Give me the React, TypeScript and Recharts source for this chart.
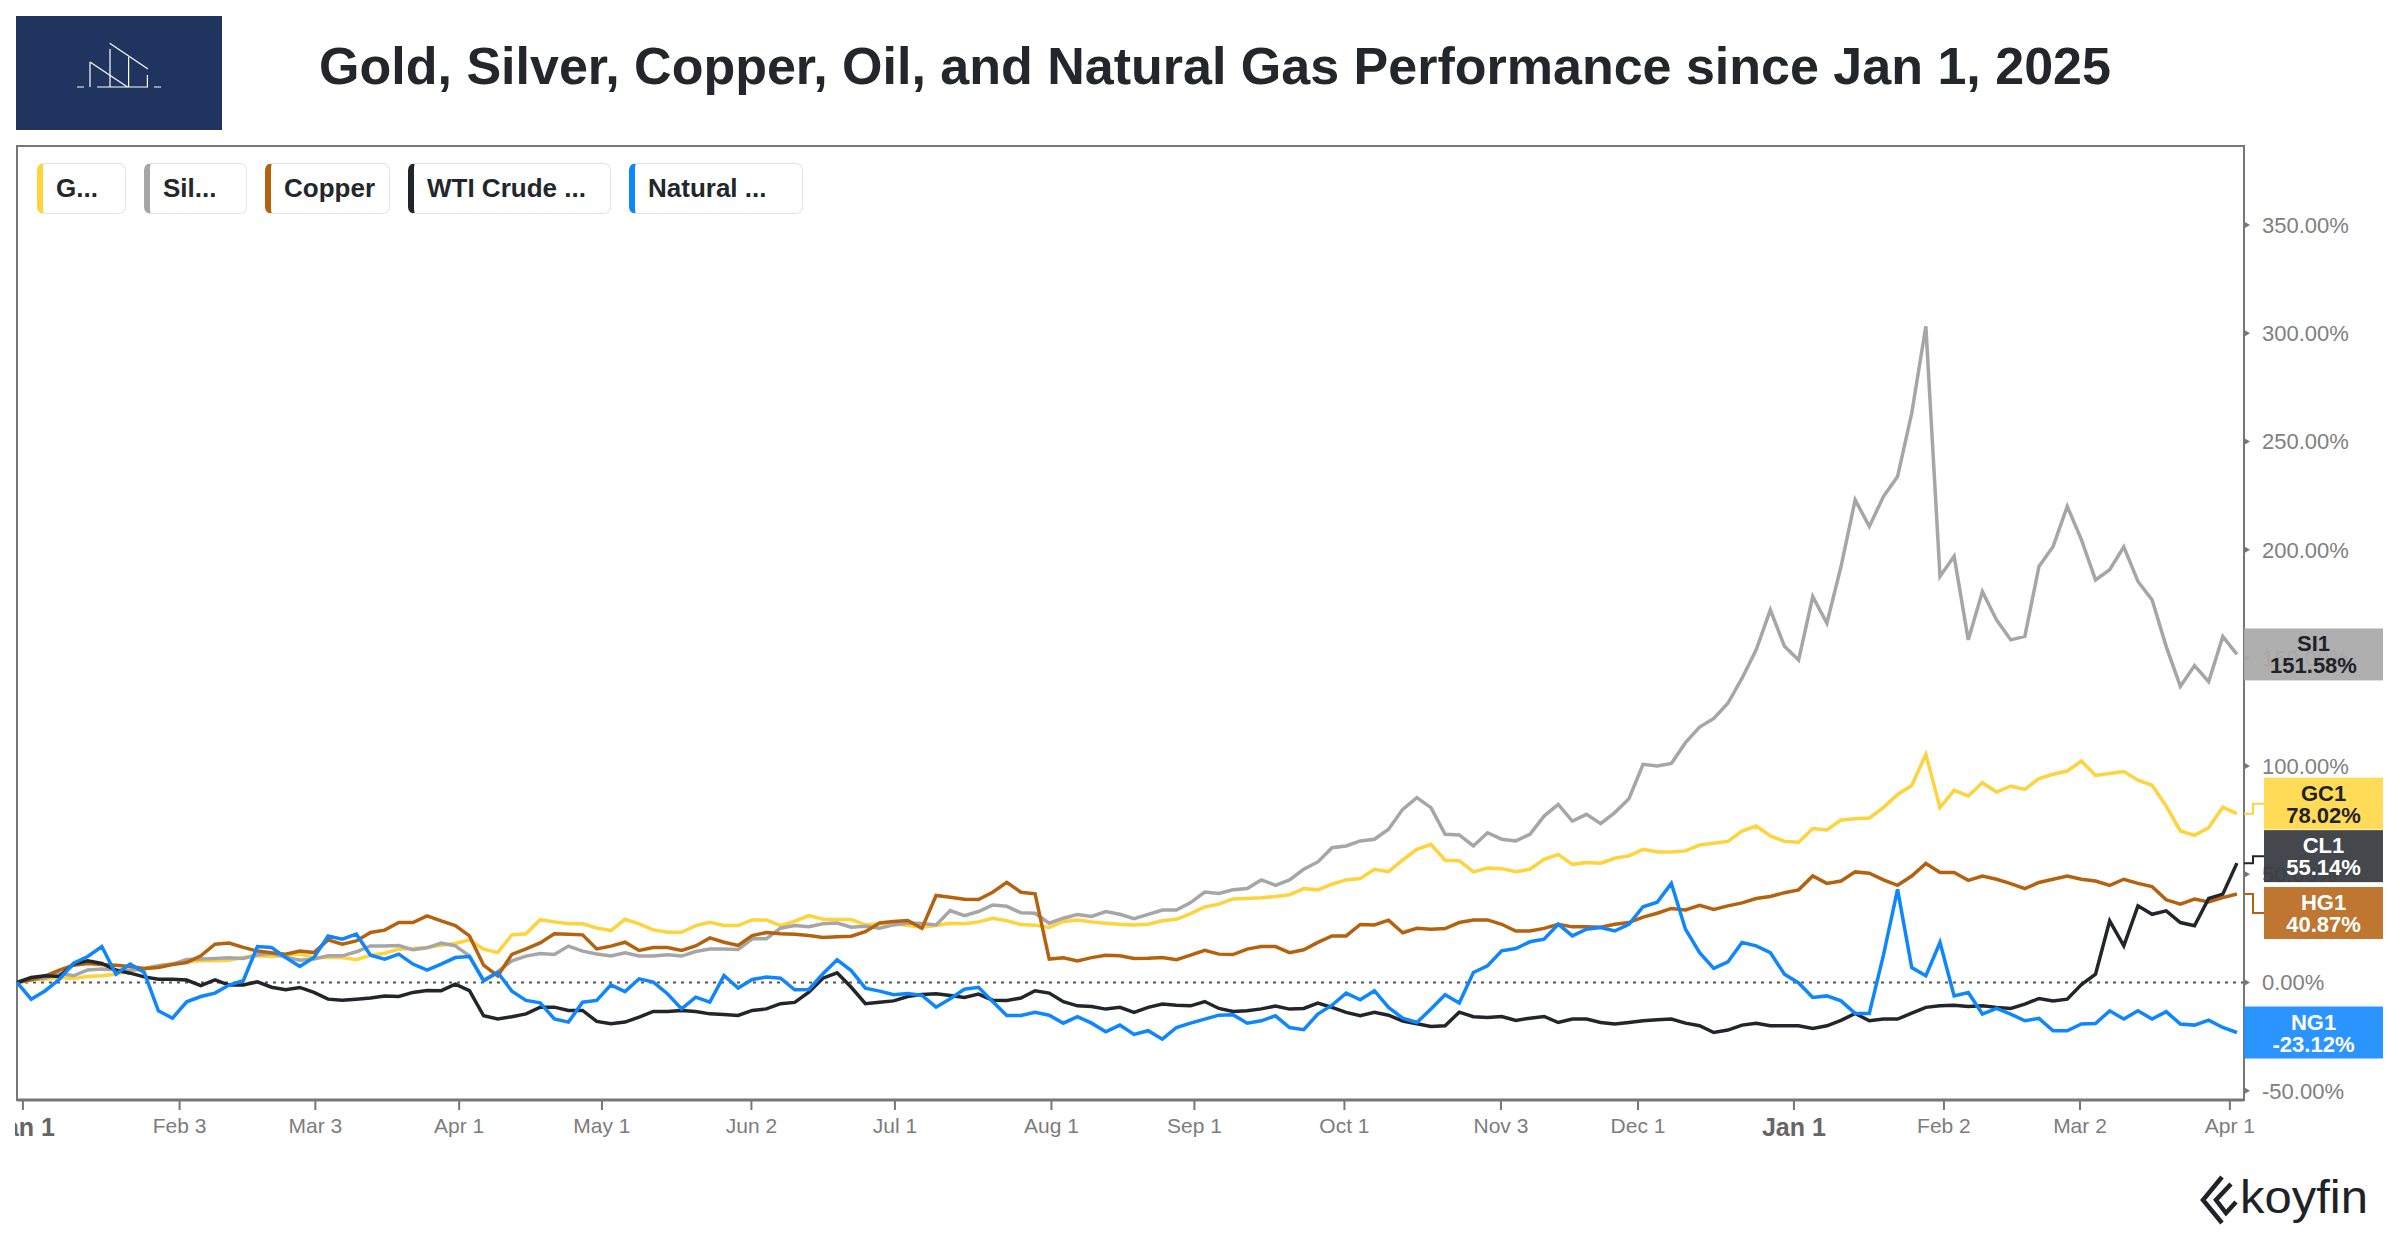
import React from 'react';
import { LineChart, Line, XAxis, YAxis, ReferenceLine, ReferenceArea, Legend } from 'recharts';

// % change since Jan 1 2025, one point every ~2 sessions (last point = latest close)
const GOLD = [
  0, 1, 1.5, 2.3, 1.8, 2.8, 3.1, 3.8, 5.4, 6.5,
  7.7, 8.5, 9.5, 10, 10, 10.3, 11.5, 12.3, 12, 12.6,
  13.1, 11.5, 11.5, 11.5, 10.5, 12.6, 13.5, 15.4, 15.7, 16.2,
  17.2, 18, 19.7, 15.4, 13.8, 22, 22.5, 29, 28, 27.1,
  27.1, 25.2, 24, 29.2, 27.1, 24.3, 23.2, 23.2, 26.3, 27.8,
  26.3, 26.3, 28.9, 28.9, 26.3, 28.3, 30.9, 29.2, 29.1, 29.1,
  26.6, 27.1, 27.1, 26.3, 25.5, 26.3, 27.4, 27.1, 28, 29.7,
  28.5, 26.8, 26.5, 25.4, 28.2, 28.9, 28, 27.4, 26.9, 26.6,
  26.9, 28.5, 29.2, 31.8, 34.9, 36.2, 38.6, 38.8, 39.1, 39.7,
  40.5, 43.4, 42.8, 45.4, 47.4, 48, 52.3, 51.2, 56.6, 61.5,
  63.8, 56.5, 56.3, 51.1, 52.9, 52.6, 51.2, 52.3, 56.9, 59.2,
  54.6, 55.4, 55.1, 57.4, 58.5, 61.5, 60.3, 60.3, 60.8, 63.5,
  64.3, 65.2, 70, 72.3, 67.7, 65.2, 64.8, 71.1, 70.5, 75.1,
  75.7, 76, 80.8, 86.9, 91, 105.4, 80.8, 88.8, 86.2, 92.3,
  88, 90.8, 89.2, 94.2, 96.2, 97.7, 102.3, 95.7, 96.6, 97.5,
  93.5, 91.1, 81.5, 70, 68, 71.5, 81, 78.02,
];

const SILVER = [
  0, 1.2, 2, 4.3, 3.1, 5.8, 6.2, 5.8, 5.7, 6.2,
  7.7, 8.5, 10.6, 10.8, 11.1, 11.4, 11.1, 12.8, 13.4, 11.7,
  10.3, 10.8, 12.3, 12.3, 14.2, 16.9, 16.9, 17.1, 15.1, 16,
  18.2, 16.9, 12.3, 1, 5, 10, 12.2, 13.4, 12.9, 16.8,
  14.5, 13.2, 12.2, 13.7, 12.2, 12.2, 12.8, 12.2, 14.3, 15.5,
  15.5, 15.2, 20.2, 20.2, 25.1, 26.3, 25.8, 27.1, 27.5, 25.5,
  26, 25.1, 26.6, 27.5, 27.2, 26.6, 33.2, 30.9, 32.8, 35.8,
  35.2, 32.2, 32, 27.4, 29.7, 31.4, 30.5, 32.8, 31.5, 29.5,
  31.5, 33.5, 33.5, 36.9, 41.8, 41.1, 42.8, 43.4, 47.4, 44.9,
  47.4, 52.3, 55.7, 62.3, 63.1, 65.4, 66.2, 70.8, 80, 85.4,
  80.8, 68.5, 68.2, 63.1, 69.2, 66.2, 65.4, 68.5, 76.9, 82.3,
  74.6, 77.7, 73.4, 78.5, 84.9, 100.8, 100, 101.2, 110.8, 118,
  122, 129, 140.6, 153.7, 172.2, 155.3, 149, 178.3, 166, 192.2,
  223, 210.7, 224.5, 233.8, 263, 303.2, 187.6, 196.9, 158.3, 180.6,
  167.5, 158.3, 159.9, 192.2, 201.5, 220, 204.6, 186, 190.7, 201.3,
  185.3, 176.8, 155.2, 136.8, 146.4, 139, 159.9, 151.58,
];

const COPPER = [
  0, 1.2, 3.1, 5.7, 8, 8.8, 8.3, 8, 7.4, 6.5,
  6.9, 8.3, 9.2, 12.3, 17.7, 18.2, 16.2, 14.5, 13.7, 13.1,
  14.5, 13.8, 19.7, 17.7, 19.2, 23.1, 24.2, 27.7, 27.7, 30.8,
  28.5, 26.3, 21.5, 8, 3, 13, 15.5, 18.3, 22.5, 22.3,
  22, 15.5, 16.8, 18.6, 14.8, 16.2, 16.2, 14.8, 16.9, 20.6,
  18.6, 17.1, 21.7, 23.1, 22.5, 22.3, 21.7, 20.8, 21.1, 21.4,
  23.5, 27.5, 28.2, 28.6, 25, 40.2, 39.4, 38.5, 38.3, 41.7,
  46.3, 41.7, 41, 10.8, 11.4, 10, 11.5, 12.6, 12.3, 11.1,
  11.2, 11.5, 10.5, 12.6, 14.9, 13.1, 12.9, 15.4, 16.6, 16.6,
  13.8, 15.1, 18.5, 21.5, 21.5, 26.8, 26.6, 28.8, 23, 25,
  24.6, 24.9, 27.7, 28.9, 28.9, 26.9, 23.8, 23.8, 25, 26.9,
  25.7, 25.8, 25.5, 26.9, 27.7, 30.2, 32, 34.2, 33.5, 35.7,
  33.8, 35.4, 36.8, 38.8, 39.7, 41.5, 42.8, 49.2, 45.8, 46.9,
  51.1, 50.5, 47.4, 44.9, 49.2, 55, 50.8, 50.8, 47.2, 49.2,
  47.7, 45.7, 43.4, 46.2, 47.7, 49.2, 47.7, 46.9, 44.9, 47.7,
  45.8, 44.3, 38.2, 36.2, 38.5, 37.2, 39.2, 40.87,
];

const WTI = [
  0, 2.3, 3.1, 2.8, 8.5, 10, 8.8, 5.7, 4.3, 2.6,
  1.5, 1.5, 1.1, -1.5, 1.2, -1.2, -1.2, 0.3, -2.2, -3.4,
  -2.3, -4.6, -7.7, -8.2, -7.7, -7.2, -6.3, -6.5, -4.6, -3.7,
  -3.8, -0.8, -3.8, -15.4, -16.9, -15.8, -14.5, -11.4, -11.4, -12.9,
  -12.9, -18, -19.1, -18.3, -16, -13.4, -13.4, -12.9, -13.4, -14.5,
  -14.8, -15.2, -12.9, -12.2, -9.8, -9.2, -4.5, 2, 4.5, -2.2,
  -9.8, -9.1, -8.5, -6.5, -5.5, -5.2, -6, -6.9, -5.4, -8.2,
  -8.3, -7.2, -3.8, -4.9, -8.9, -10.8, -11.1, -12.3, -11.5, -13.8,
  -11.5, -10, -10.5, -10.8, -8.8, -12, -13.4, -13.1, -12.2, -10.9,
  -12.3, -12, -9.5, -11.5, -13.8, -15.4, -13.8, -15.1, -17.8, -19.1,
  -20.3, -20, -13.7, -15.8, -16.2, -15.7, -17.5, -16.5, -15.7, -18.5,
  -16.9, -16.9, -18.5, -19.2, -18.5, -17.7, -17.2, -16.9, -18.8, -20,
  -23.1, -22, -19.7, -18.8, -20, -20, -20, -21.2, -20, -17.5,
  -14.3, -17.7, -16.9, -16.9, -14.2, -11.5, -10.8, -10.5, -11.1, -10.8,
  -11.5, -12, -10, -7.4, -8.5, -7.7, -1, 3.8, 28.5, 16.9,
  35.4, 31.5, 33.1, 27.7, 26.2, 38.8, 40.8, 55.14,
];

const NATGAS = [
  0, -7.7, -3.8, 1.5, 8.9, 12, 16.6, 3.8, 8.5, 4.6,
  -13.1, -16.5, -8.9, -6.5, -4.9, -1.2, 0.8, 16.6, 16.2, 11.5,
  7.4, 11.5, 21.5, 20, 22.3, 12.6, 10.8, 13.1, 8.5, 5.7,
  8.5, 11.5, 12, 0.8, 4.6, -4, -8.3, -9.4, -16.8, -18.3,
  -9.1, -8.3, -1.1, -4.2, 1.7, 0.2, -5.2, -12.2, -6.8, -9.1,
  3.2, -2.6, 1.4, 2.5, 2, -3.4, -3.2, 4, 10.5, 5.5,
  -2.6, -4, -5.7, -5.1, -6, -11.4, -7.5, -3.1, -2.2, -8.8,
  -15.2, -15.2, -13.8, -15.1, -18.8, -15.8, -18.8, -22.8, -19.7, -24,
  -22.3, -26.2, -20.8, -18.8, -16.9, -15.1, -14.9, -18.8, -17.7, -15.4,
  -20.8, -21.8, -14.6, -10.5, -4.9, -8, -3.8, -11.5, -16.5, -18.5,
  -12.3, -5.7, -9.5, 4.6, 7.7, 14.6, 15.7, 18.8, 20, 26.9,
  21.5, 24.6, 25.4, 23.8, 26.9, 35, 37.1, 45.8, 24.6, 13.8,
  6.5, 9.5, 18.5, 16.9, 13.8, 3.8, -0.2, -6.9, -6.2, -8.5,
  -14.3, -14.3, 12.6, 43, 6.9, 3.1, 18.5, -6.2, -4.6, -14.6,
  -12, -14.6, -17.7, -16.6, -22.3, -22.3, -19.2, -19, -13.1, -16.9,
  -13.1, -16.9, -13.5, -19.2, -19.7, -17.4, -20.8, -23.12,
];

// month ticks, in sample units
const TICK_POS = [0.42, 11.5, 21.1, 31.27, 41.37, 51.94, 62.09, 73.16, 83.27, 93.88, 104.95, 114.64, 125.67, 136.28, 145.9, 156.5];
const TICK_LABELS = ['Jan 1', 'Feb 3', 'Mar 3', 'Apr 1', 'May 1', 'Jun 2', 'Jul 1', 'Aug 1', 'Sep 1', 'Oct 1', 'Nov 3', 'Dec 1', 'Jan 1', 'Feb 2', 'Mar 2', 'Apr 1'];
const Y_TICKS = [-50, 0, 50, 100, 150, 200, 250, 300, 350];

const FONT = "'Liberation Sans', Arial, Helvetica, sans-serif";

const SERIES = [
  { key: 'gold', legend: 'G...', width: 89, ticker: 'GC1', color: '#fed33c', badge: '#ffd84b', ink: '#1f2328', shift: -10, inset: true },
  { key: 'silver', legend: 'Sil...', width: 103, ticker: 'SI1', color: '#a6a6a6', badge: '#a9a9a9', ink: '#1f2328', shift: 0, inset: false },
  { key: 'copper', legend: 'Copper', width: 125, ticker: 'HG1', color: '#b5620e', badge: '#b96c20', ink: '#ffffff', shift: 19, inset: true },
  { key: 'wti', legend: 'WTI Crude ...', width: 203, ticker: 'CL1', color: '#22262b', badge: '#363a40', ink: '#ffffff', shift: -7, inset: true },
  { key: 'natgas', legend: 'Natural ...', width: 174, ticker: 'NG1', color: '#0e86fe', badge: '#1a8cff', ink: '#ffffff', shift: 0, inset: false },
];

const data = GOLD.map((g, k) => ({
  k,
  gold: g,
  silver: SILVER[k],
  copper: COPPER[k],
  wti: WTI[k],
  natgas: NATGAS[k],
}));
const LAST = data.length - 1;

const CHART_W = 2385;
const MARGIN = { top: 146, right: 6, bottom: 80, left: 2 };
const Y_AXIS_W = 150;
const PLOT_RIGHT = CHART_W - MARGIN.right - Y_AXIS_W;

const XTick = (props: any) => {
  const { x, y, payload } = props;
  const label = TICK_LABELS[TICK_POS.indexOf(payload.value)];
  const bold = label === 'Jan 1';
  return (
    <text x={x} y={y} dy="0.71em" textAnchor="middle" fontFamily={FONT}
      fontSize={bold ? 25 : 21} fontWeight={bold ? 700 : 400} fill={bold ? '#666' : '#7c7c7c'}>
      {label}
    </text>
  );
};

const YTick = (props: any) => {
  const { x, y, payload } = props;
  return (
    <g>
      <path d={`M${x},${y - 3.5} L${x + 6},${y} L${x},${y + 3.5} Z`} fill="#777" />
      <text x={x + 18} y={y} dy="0.36em" fontFamily={FONT} fontSize={22} fill="#808080">
        {`${Number(payload.value).toFixed(2)}%`}
      </text>
    </g>
  );
};

const badge = (s: any) => (props: any) => {
  if (props.index !== LAST) return null;
  const vb = props.viewBox || {};
  const py = props.y ?? vb.y;
  const value = Number(props.value);
  const cy = py + s.shift;
  const bx = s.inset ? PLOT_RIGHT + 20 : PLOT_RIGHT;
  const bw = s.inset ? 119 : 139;
  const cx = bx + bw / 2;
  return (
    <g key={`badge-${s.key}`}>
      {s.inset && (
        <path d={`M${PLOT_RIGHT},${py} H${PLOT_RIGHT + 9} V${cy} H${bx}`} fill="none" stroke={s.color} strokeWidth={2} />
      )}
      <rect x={bx} y={cy - 26} width={bw} height={52} fill={s.badge} fillOpacity={0.93} />
      <text x={cx} y={cy - 3} textAnchor="middle" fontFamily={FONT} fontWeight={700} fontSize={22} fill={s.ink}>{s.ticker}</text>
      <text x={cx} y={cy + 19} textAnchor="middle" fontFamily={FONT} fontWeight={700} fontSize={22} fill={s.ink}>{`${value.toFixed(2)}%`}</text>
    </g>
  );
};

const LegendChips = () => (
  <div style={{ display: 'flex', fontFamily: FONT }}>
    {SERIES.map((s) => (
      <div key={s.key} style={{
        boxSizing: 'border-box', width: s.width, height: 51, marginRight: 18,
        border: '1.5px solid #e4e4e4', borderLeft: `6px solid ${s.color}`, borderRadius: 7,
        paddingLeft: 13, display: 'flex', alignItems: 'center',
        fontSize: 26, fontWeight: 700, color: '#23272b', whiteSpace: 'nowrap', background: '#fff',
      }}>
        {s.legend}
      </div>
    ))}
  </div>
);

export default function App() {
  return (
    <div style={{ position: 'absolute', left: 0, top: 0, width: 2400, height: 1240, background: '#fff', overflow: 'hidden' }}>
      <svg width={2400} height={146} style={{ position: 'absolute', left: 0, top: 0 }}>
        <rect x={16} y={16} width={206} height={114} fill="#1f3560" />
        <g stroke="#fff" strokeWidth={1.2} fill="none">
          <path d="M77,87 H84 M97,87 H148 M154,87 H161" />
          <path d="M90,62 V87 M110,49 V87 M128.6,57 V87 M147.4,75 V87" />
          <path d="M90,62 L127.5,87 M109.7,43.3 L148,69" />
        </g>
        <text x={1215} y={84} textAnchor="middle" fontFamily={FONT} fontWeight={700} fontSize={52} fill="#23272c">
          Gold, Silver, Copper, Oil, and Natural Gas Performance since Jan 1, 2025
        </text>
      </svg>

      <div style={{ position: 'absolute', left: 15, top: 0 }}>
        <LineChart width={CHART_W} height={1240} data={data} margin={MARGIN}>
          <XAxis dataKey="k" type="number" domain={[0, 157.5]} ticks={TICK_POS} interval={0}
            height={60} tickSize={10} tickMargin={8}
            axisLine={{ stroke: '#777', strokeWidth: 3 }} tickLine={{ stroke: '#777', strokeWidth: 2 }}
            tick={(p: any) => <XTick {...p} />} />
          <YAxis orientation="right" type="number" domain={[-54.3, 386.5]} ticks={Y_TICKS} interval={0}
            width={Y_AXIS_W} tickSize={0} tickMargin={0} tickLine={false}
            axisLine={{ stroke: '#777', strokeWidth: 2 }}
            tick={(p: any) => <YTick {...p} />} />
          <ReferenceArea x1={0} x2={157.5} y1={-54.3} y2={386.5} fill="none" stroke="#777" strokeWidth={2} ifOverflow="visible" />
          <ReferenceLine y={0} stroke="#555" strokeWidth={2} strokeDasharray="3 5" />
          {SERIES.map((s) => (
            <Line key={s.key} type="linear" dataKey={s.key} name={s.legend} stroke={s.color} strokeWidth={3.5}
              dot={false} activeDot={false} isAnimationActive={false} label={badge(s)} />
          ))}
          <Legend layout="vertical" verticalAlign="middle" align="center"
            wrapperStyle={{ left: 22, top: 163, width: 'auto', height: 51 }}
            content={() => <LegendChips />} />
        </LineChart>
      </div>

      <svg width={240} height={70} style={{ position: 'absolute', left: 2160, top: 1166 }}>
        <g fill="none" stroke="#1f2226" strokeWidth={4.5} strokeLinejoin="miter">
          <path d="M62,11 L43,34 L62,57" />
          <path d="M71,18 L56,34 L66,47 L76,36" />
        </g>
        <text x={80} y={47} fontFamily={FONT} fontSize={46} fill="#1f2226" textLength={128} lengthAdjust="spacingAndGlyphs">koyfin</text>
      </svg>
    </div>
  );
}
